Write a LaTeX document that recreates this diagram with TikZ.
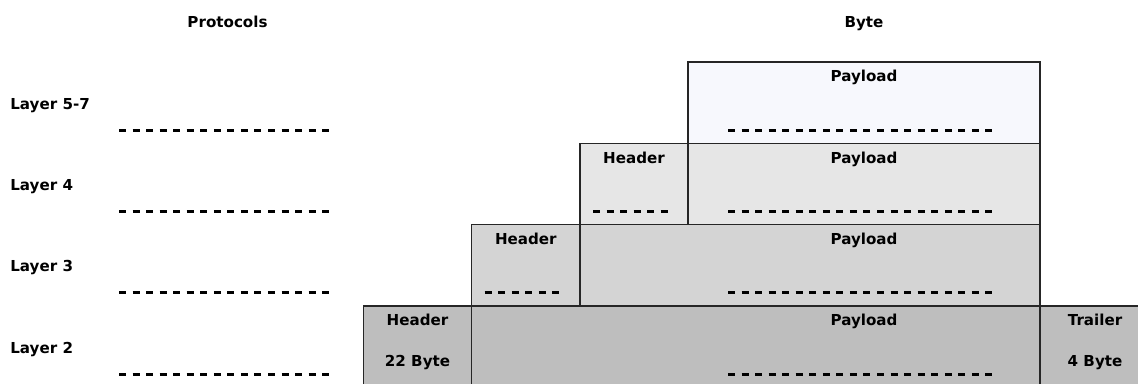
\documentclass[tikz,border=0pt]{standalone}
\usepackage{fontspec}
\setmainfont{DejaVu Sans}
\usepackage{tikz}

\begin{document}
\begin{tikzpicture}[x=0.02cm,y=-0.02cm,
	lbl/.style={font=\bfseries\fontsize{8.6}{10}\selectfont,inner sep=0pt,anchor=base},
	dline/.style={line width=1.7pt,dash pattern=on 3.97pt off 3.74pt},
	box/.style={draw=black!85,line width=0.6pt}]
\useasboundingbox (0,0) rectangle (1138,383);
\clip (0,0) rectangle (1138,383);

\draw[box,fill={rgb,255:red,247;green,248;blue,253}] (688,62) rectangle (1040,143.3);
\draw[box,fill={rgb,255:red,230;green,230;blue,230}] (580,143.3) rectangle (688,224.6);
\draw[box,fill={rgb,255:red,230;green,230;blue,230}] (688,143.3) rectangle (1040,224.6);
\draw[box,fill={rgb,255:red,212;green,212;blue,212}] (471.7,224.6) rectangle (580,306);
\draw[box,fill={rgb,255:red,212;green,212;blue,212}] (580,224.6) rectangle (1040,306);
\draw[box,fill={rgb,255:red,190;green,190;blue,190}] (363.3,306) rectangle (471.7,400);
\draw[box,fill={rgb,255:red,190;green,190;blue,190}] (471.7,306) rectangle (1040,400);
\draw[box,fill={rgb,255:red,190;green,190;blue,190}] (1040,306) rectangle (1149,400);

\node[lbl] (P) at (227.5,27.3) {Protocols};
\node[lbl] (B) at (864,27.3) {Byte};

\node[lbl,anchor=base west] (L57) at (10,109) {Layer 5-7};
\node[lbl,anchor=base west] (L4) at (10,190.3) {Layer 4};
\node[lbl,anchor=base west] (L3) at (10,271.6) {Layer 3};
\node[lbl,anchor=base west] (L2) at (10,353) {Layer 2};

\draw[dline] (119,130) -- (331,130);
\draw[dline] (119,211.3) -- (331,211.3);
\draw[dline] (119,292.6) -- (331,292.6);
\draw[dline] (119,374) -- (331,374);

\node[lbl] (pay57) at (864,81.7) {Payload};
\node[lbl] (pay4) at (864,163) {Payload};
\node[lbl] (pay3) at (864,244.3) {Payload};
\node[lbl] (pay2) at (864,325.7) {Payload};
\draw[dline] (728,130) -- (993,130);
\draw[dline] (728,211.3) -- (993,211.3);
\draw[dline] (728,292.6) -- (993,292.6);
\draw[dline] (728,374) -- (993,374);

\node[lbl] (hd4) at (634,163) {Header};
\node[lbl] (hd3) at (525.8,244.3) {Header};
\node[lbl] (hd2) at (417.5,325.7) {Header};
\draw[dline] (593,211.3) -- (668,211.3);
\draw[dline] (484.7,292.6) -- (559.7,292.6);
\node[lbl] (hb2) at (417.5,366) {22 Byte};

\node[lbl] (tr2) at (1095,325.7) {Trailer};
\node[lbl] (tb2) at (1095,366) {4 Byte};

\end{tikzpicture}
\end{document}
